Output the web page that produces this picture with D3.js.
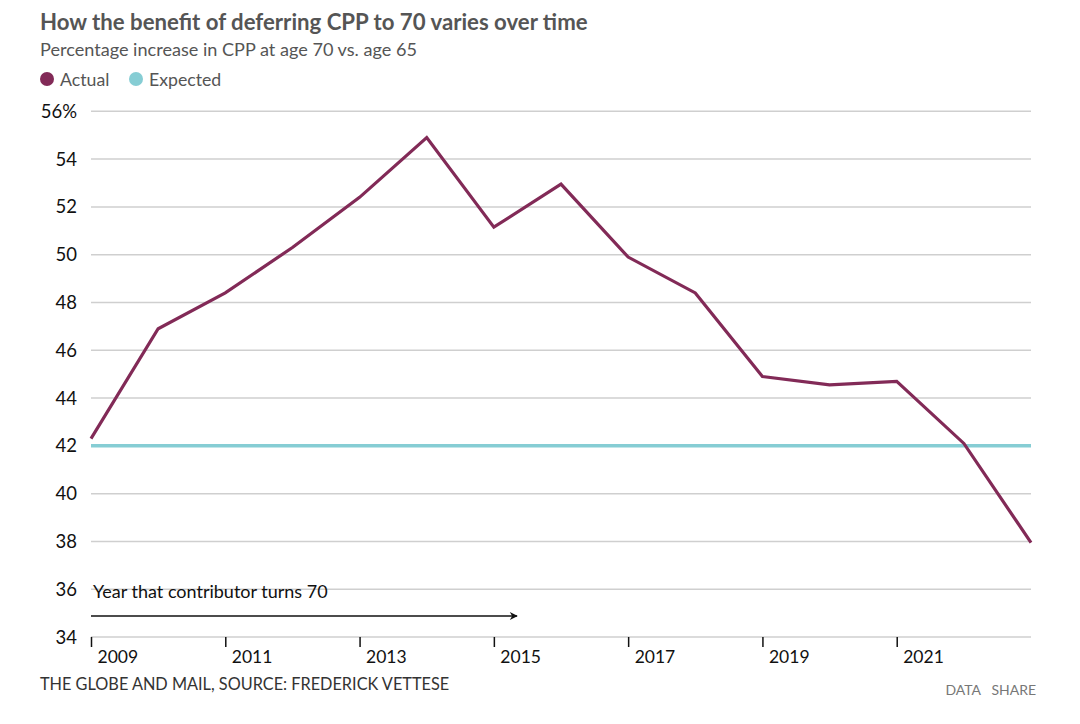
<!DOCTYPE html>
<html><head><meta charset="utf-8">
<script src="https://cdn.jsdelivr.net/npm/d3@7"></script>
<style>body{margin:0;background:#fff}svg{display:block}</style>
</head><body>
<script>
const years = [2009,2010,2011,2012,2013,2014,2015,2016,2017,2018,2019,2020,2021,2022,2023];
const actual = [42.3,46.9,48.4,50.3,52.4,54.9,51.15,52.95,49.9,48.4,44.9,44.55,44.7,42.1,37.95];
const expected = [42,42,42,42,42,42,42,42,42,42,42,42,42,42,42];
const yTicks = [34,36,38,40,42,44,46,48,50,52,54,56];
const xTicks = [2009,2011,2013,2015,2017,2019,2021];

const W=1080,H=724;
const svg=d3.select("body").append("svg").attr("width",W).attr("height",H);
const font="Lato, 'Open Sans', sans-serif";
const x=d3.scaleLinear().domain([2009,2023]).range([91,1031]);
const y=d3.scaleLinear().domain([34,56]).range([637,111.3]);

svg.append("text").attr("x",40).attr("y",30).attr("font-family",font).attr("font-weight",700)
  .attr("font-size",22.2).attr("fill","#555").text("How the benefit of deferring CPP to 70 varies over time");
svg.append("text").attr("x",40).attr("y",56).attr("font-family",font)
  .attr("font-size",18.1).attr("fill","#555").text("Percentage increase in CPP at age 70 vs. age 65");
const leg=[["Actual","#822a57",47],["Expected","#86cdd4",136]];
leg.forEach(([t,c,lx])=>{
  svg.append("circle").attr("cx",lx).attr("cy",79).attr("r",7).attr("fill",c);
  svg.append("text").attr("x",lx+13).attr("y",85.5).attr("font-family",font).attr("font-size",17.7).attr("fill","#555").text(t);
});

// grid
svg.append("g").selectAll("line").data(yTicks).join("line")
  .attr("x1",91).attr("x2",1031).attr("y1",d=>y(d)).attr("y2",d=>y(d))
  .attr("stroke","#cfcfcf").attr("stroke-width",1.5);
svg.append("g").selectAll("text").data(yTicks).join("text")
  .attr("x",77).attr("y",d=>y(d)+6.5).attr("text-anchor","end").attr("font-family",font)
  .attr("font-size",18.5).attr("fill","#111").text(d=>d===56?"56%":d);

// x axis
const xa=svg.append("g").attr("transform","translate(0,637)")
  .call(d3.axisBottom(x).tickValues(xTicks).tickSize(10).tickFormat(d3.format("d")));
xa.select(".domain").remove();
xa.selectAll(".tick line").attr("stroke","#111").attr("stroke-width",1.5);
xa.selectAll(".tick text").attr("text-anchor","start").attr("x",6).attr("dy",0).attr("y",26)
  .attr("font-family",font).attr("font-size",17.5).attr("fill","#111");

// annotation
svg.append("defs").append("marker").attr("id","ah").attr("viewBox","0 0 10 10").attr("refX",9).attr("refY",5)
  .attr("markerWidth",12).attr("markerHeight",8).attr("markerUnits","userSpaceOnUse").attr("orient","auto")
  .append("path").attr("d","M0,0L10,5L0,10L3,5Z").attr("fill","#111");
const at=svg.append("text").attr("x",93).attr("y",598).attr("font-family",font).attr("font-size",18).attr("fill","#111")
  .text("Year that contributor turns 70");
const bb=at.node().getBBox();
svg.insert("rect","text").attr("x",91).attr("y",bb.y).attr("width",bb.width+5).attr("height",bb.height).attr("fill","#fff");
at.raise();
svg.append("line").attr("x1",91).attr("x2",517).attr("y1",616).attr("y2",616).attr("stroke","#111").attr("stroke-width",1.5).attr("marker-end","url(#ah)");

// lines
const line=d3.line().x((d,i)=>x(years[i])).y(d=>y(d));
svg.append("path").datum(expected).attr("d",line).attr("fill","none").attr("stroke","#86cdd4").attr("stroke-width",3.5);
svg.append("path").datum(actual).attr("d",line).attr("fill","none").attr("stroke","#822a57").attr("stroke-width",3.2).attr("stroke-linejoin","miter");

// footer
svg.append("text").attr("x",40).attr("y",690).attr("font-family",font).attr("font-size",16.3).attr("fill","#333")
  .text("THE GLOBE AND MAIL, SOURCE: FREDERICK VETTESE");
svg.append("text").attr("x",1036).attr("y",695).attr("text-anchor","end").attr("font-family",font).attr("font-size",14).attr("fill","#777")
  .attr("xml:space","preserve").text("DATA   SHARE");
</script>
</body></html>
